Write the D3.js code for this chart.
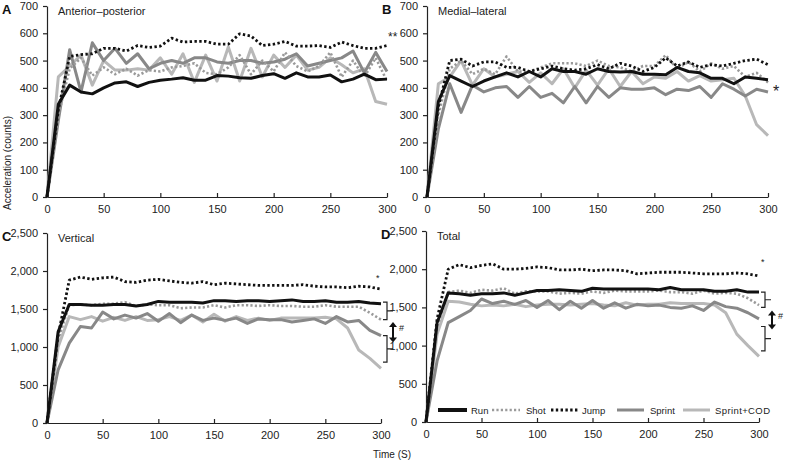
<!DOCTYPE html>
<html><head><meta charset="utf-8">
<script src="https://cdn.jsdelivr.net/npm/d3@7"></script>
<style>
body{margin:0;background:#fff;}
svg{font-family:"Liberation Sans",Arial,sans-serif;}
</style></head><body>
<svg id="c" width="787" height="461"></svg>
<script>
const times = [0,10,20,30,40,50,60,70,80,90,100,110,120,130,140,150,160,170,180,190,200,210,220,230,240,250,260,270,280,290,300];
const seriesNames = ["Run","Shot","Jump","Sprint","Sprint+COD"];
const xTicks = [0,50,100,150,200,250,300];
const yTicksSmall = [0,100,200,300,400,500,600,700];
const yTicksLarge = [0,500,1000,1500,2000,2500];

// A: Anterior–posterior
const apRun    = [0,340,410,385,378,400,418,422,405,420,428,432,437,428,428,445,443,437,435,445,452,435,455,440,440,447,422,432,450,430,432];
const apShot   = [0,300,470,510,445,475,450,470,445,465,460,475,480,490,455,450,475,520,450,500,460,530,480,460,480,530,440,500,440,510,425];
const apJump   = [0,320,515,522,525,545,545,535,555,548,553,582,568,570,570,560,560,598,590,555,560,570,553,553,555,548,568,555,545,545,555];
const apSprint = [0,280,540,385,565,500,545,490,525,470,490,500,490,510,510,495,490,500,500,490,495,505,525,480,490,500,510,535,455,530,460];
const apCod    = [0,440,480,520,410,500,465,465,470,465,510,450,525,420,520,425,550,425,545,440,520,475,520,465,475,510,485,455,470,350,340];
// B: Medial–lateral
const mlRun    = [0,350,445,425,405,425,440,455,440,460,440,470,460,460,450,470,460,458,460,450,450,448,475,460,455,435,435,415,440,435,430];
const mlShot   = [0,300,470,500,450,470,450,515,460,460,475,490,490,490,480,500,480,475,460,480,480,520,470,495,460,490,470,480,440,455,420];
const mlJump   = [0,330,500,505,480,495,495,475,475,460,470,480,470,465,470,485,470,490,480,460,475,510,480,495,475,485,480,490,500,505,485];
const mlSprint = [0,250,415,310,410,385,400,405,365,405,365,380,345,405,345,405,365,400,395,395,400,375,395,390,405,365,415,395,370,395,385];
const mlCod    = [0,415,440,500,410,470,440,450,460,420,455,415,470,400,465,410,470,405,460,415,440,435,460,425,445,425,430,435,370,265,225];
// C: Vertical
const vtRun    = [0,1200,1560,1560,1550,1550,1560,1560,1540,1560,1600,1590,1590,1590,1580,1610,1610,1600,1610,1610,1600,1610,1620,1600,1600,1610,1590,1590,1600,1580,1570];
const vtShot   = [0,1100,1550,1560,1550,1570,1570,1590,1540,1560,1550,1550,1510,1520,1520,1550,1520,1550,1550,1540,1550,1540,1540,1530,1530,1550,1530,1530,1530,1450,1360];
const vtJump   = [0,1150,1880,1920,1890,1910,1920,1860,1850,1880,1890,1870,1850,1840,1860,1820,1840,1830,1820,1810,1810,1810,1810,1820,1800,1790,1790,1780,1800,1790,1760];
const vtSprint = [0,700,1050,1270,1250,1460,1370,1420,1380,1440,1340,1440,1320,1420,1350,1380,1350,1380,1310,1370,1360,1360,1330,1350,1370,1310,1400,1330,1350,1220,1150];
const vtCod    = [0,1000,1400,1360,1400,1340,1390,1350,1400,1350,1360,1400,1350,1420,1330,1430,1340,1400,1350,1380,1350,1380,1380,1380,1380,1390,1370,1250,960,850,720];
// D: Total
const ttRun    = [0,1300,1690,1680,1660,1680,1680,1690,1660,1690,1720,1720,1730,1720,1710,1750,1740,1740,1740,1740,1740,1730,1760,1730,1730,1730,1710,1710,1730,1700,1700];
const ttShot   = [0,1250,1700,1720,1690,1730,1720,1750,1680,1710,1710,1710,1680,1690,1680,1710,1690,1720,1710,1710,1710,1720,1700,1700,1680,1720,1680,1690,1680,1620,1530];
const ttJump   = [0,1350,2000,2060,2020,2050,2070,2000,2000,2010,2030,2020,1990,1990,2000,1980,1990,1990,1980,1940,1950,1960,1960,1960,1950,1940,1940,1940,1950,1940,1910];
const ttSprint = [0,800,1300,1380,1460,1610,1550,1580,1540,1590,1500,1590,1470,1580,1490,1590,1490,1560,1490,1540,1520,1530,1500,1490,1520,1460,1570,1510,1490,1430,1350];
const ttCod    = [0,1150,1580,1570,1540,1520,1530,1520,1540,1510,1530,1540,1540,1530,1540,1550,1530,1520,1560,1530,1540,1540,1560,1550,1550,1550,1530,1430,1150,1000,860];

const styles = {
  "Run":        {color:"#111", width:3,   dash:null},
  "Shot":       {color:"#9a9a9a", width:2.6, dash:"2.2,2.2"},
  "Jump":       {color:"#111", width:2.8, dash:"2.4,2.4"},
  "Sprint":     {color:"#888", width:3,   dash:null},
  "Sprint+COD": {color:"#b8b8b8", width:3, dash:null}
};
const drawOrder = ["Sprint+COD","Sprint","Shot","Run","Jump"];

const panels = [
  {letter:"A", title:"Anterior–posterior", left:47, right:387, top:6, bottom:197, max:700, yt:yTicksSmall,
   data:{"Run":apRun,"Shot":apShot,"Jump":apJump,"Sprint":apSprint,"Sprint+COD":apCod}},
  {letter:"B", title:"Medial–lateral", left:427, right:768, top:6, bottom:197, max:700, yt:yTicksSmall,
   data:{"Run":mlRun,"Shot":mlShot,"Jump":mlJump,"Sprint":mlSprint,"Sprint+COD":mlCod}},
  {letter:"C", title:"Vertical", left:47, right:381, top:233, bottom:423, max:2500, yt:yTicksLarge,
   data:{"Run":vtRun,"Shot":vtShot,"Jump":vtJump,"Sprint":vtSprint,"Sprint+COD":vtCod}},
  {letter:"D", title:"Total", left:426, right:759, top:231, bottom:422, max:2500, yt:yTicksLarge,
   data:{"Run":ttRun,"Shot":ttShot,"Jump":ttJump,"Sprint":ttSprint,"Sprint+COD":ttCod}}
];

const svg = d3.select("#c");
const fmt = d3.format(",");

panels.forEach(p => {
  const x = d3.scaleLinear().domain([0,300]).range([p.left,p.right]);
  const y = d3.scaleLinear().domain([0,p.max]).range([p.bottom,p.top]);
  p.x = x; p.y = y;
  const g = svg.append("g");
  const ya = g.append("g").attr("transform",`translate(${p.left},0)`)
    .call(d3.axisLeft(y).tickValues(p.yt).tickFormat(fmt).tickSizeInner(4).tickSizeOuter(0).tickPadding(5));
  const xa = g.append("g").attr("transform",`translate(0,${p.bottom})`)
    .call(d3.axisBottom(x).tickValues(xTicks).tickSizeInner(-4).tickSizeOuter(0).tickPadding(8));
  [ya,xa].forEach(a=>{
    a.selectAll("path,line").attr("stroke","#222").attr("stroke-width",1.2);
    a.selectAll("text").attr("font-size",11).attr("fill","#222").attr("font-family","Liberation Sans, Arial, sans-serif");
  });
  const line = d3.line().x((d,i)=>x(times[i])).y(d=>y(d));
  drawOrder.forEach(name=>{
    const s = styles[name];
    g.append("path").datum(p.data[name]).attr("d",line)
      .attr("fill","none").attr("stroke",s.color).attr("stroke-width",s.width)
      .attr("stroke-dasharray",s.dash).attr("stroke-linejoin","round");
  });
  svg.append("text").attr("x",p.left-45).attr("y",p.top+8).text(p.letter)
    .attr("font-weight","bold").attr("font-size",13).attr("fill","#111");
  svg.append("text").attr("x",p.left+11).attr("y",p.top+9).text(p.title)
    .attr("font-size",11).attr("fill","#222");
});

// axis titles
svg.append("text").attr("transform","translate(11,163) rotate(-90)").attr("text-anchor","middle")
  .attr("font-size",10).attr("fill","#222").text("Acceleration (counts)");
svg.append("text").attr("x",392).attr("y",458).attr("text-anchor","middle")
  .attr("font-size",10).attr("fill","#222").text("Time (S)");

// significance marks
const A=panels[0],B=panels[1],C=panels[2],D=panels[3];
svg.append("text").attr("x",A.right+1).attr("y",A.y(572)).text("**").attr("font-size",12).attr("fill","#222");
svg.append("text").attr("x",B.right+5).attr("y",B.y(365)).text("*").attr("font-size",16).attr("fill","#222");
svg.append("text").attr("x",C.right-5).attr("y",C.y(1870)).text("*").attr("font-size",9).attr("fill","#222");
svg.append("text").attr("x",D.right+2).attr("y",D.y(2060)).text("*").attr("font-size",9).attr("fill","#222");

function bracket(p, vTop, vBot){
  const x0 = p.right+2, x1 = p.right+6;
  const yT = p.y(vTop), yB = p.y(vBot), yM=(yT+yB)/2;
  svg.append("path").attr("d",`M${x0},${yT}H${x1}V${yB}H${x0}M${x1},${yM}H${x1+6}`)
    .attr("fill","none").attr("stroke","#222").attr("stroke-width",1.2);
}
function dblArrow(xp, y1, y2, label){
  svg.append("line").attr("x1",xp).attr("x2",xp).attr("y1",y1+4).attr("y2",y2-4)
    .attr("stroke","#111").attr("stroke-width",2);
  svg.append("path").attr("d",`M${xp-4},${y1+5}L${xp},${y1}L${xp+4},${y1+5}Z`).attr("fill","#111");
  svg.append("path").attr("d",`M${xp-4},${y2-5}L${xp},${y2}L${xp+4},${y2-5}Z`).attr("fill","#111");
  svg.append("text").attr("x",xp+6).attr("y",y1+9).text(label).attr("font-size",9).attr("fill","#222");
}
bracket(C,1590,1360);
bracket(C,1150,800);
dblArrow(C.right+12,C.y(1330),C.y(1060),"#");
bracket(D,1700,1500);
bracket(D,1250,930);
dblArrow(D.right+13,D.y(1460),D.y(1210),"#");

// legend in D
const lg = [
  {name:"Run", x0:438, x1:467, tx:471},
  {name:"Shot", x0:492, x1:520, tx:526},
  {name:"Jump", x0:551, x1:578, tx:582},
  {name:"Sprint", x0:617, x1:644, tx:650},
  {name:"Sprint+COD", x0:683, x1:710, tx:715}
];
const ly = 410;
lg.forEach(l=>{
  const s = styles[l.name];
  svg.append("line").attr("x1",l.x0).attr("x2",l.x1).attr("y1",ly).attr("y2",ly)
    .attr("stroke",s.color).attr("stroke-width",l.name==="Run"?4:s.width).attr("stroke-dasharray",s.dash);
  svg.append("text").attr("x",l.tx).attr("y",ly+4).text(l.name).attr("font-size",9.5)
    .attr("textLength", l.name==="Sprint+COD"?55:null).attr("fill","#222");
});
</script>
</body></html>
